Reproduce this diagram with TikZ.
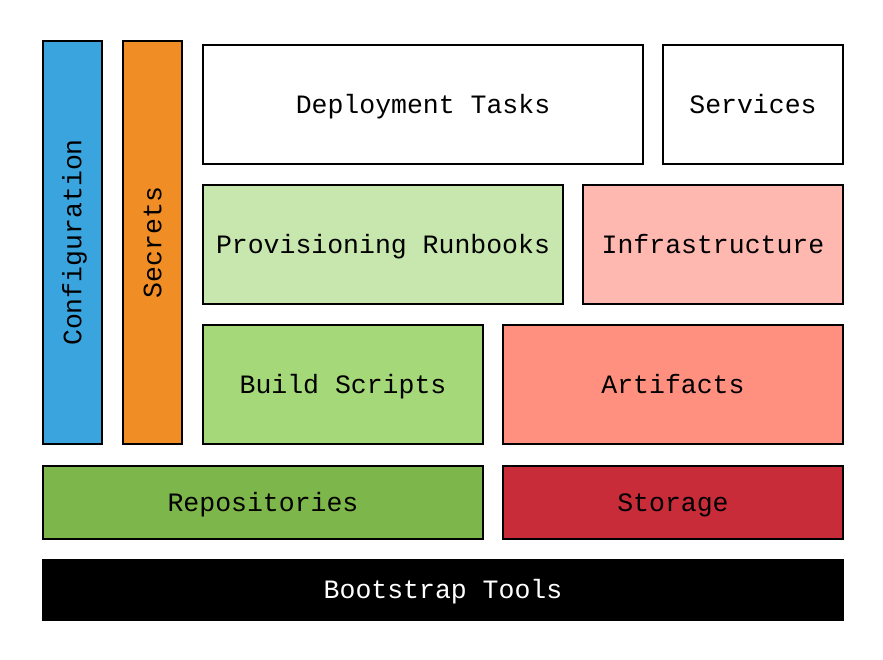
\documentclass[tikz,border=0pt]{standalone}
\usepackage{fontspec}
\setmonofont{Liberation Mono}
\usepackage{xcolor}
\usepackage{tikz}

\definecolor{confblue}{HTML}{3AA4DE}
\definecolor{secrorange}{HTML}{F08D24}
\definecolor{provgreen}{HTML}{C7E7AE}
\definecolor{infrapink}{HTML}{FFB8B0}
\definecolor{buildgreen}{HTML}{A5D879}
\definecolor{artifsalmon}{HTML}{FF9080}
\definecolor{repogreen}{HTML}{7DB64A}
\definecolor{storred}{HTML}{C92C39}

\tikzset{
    labeltext/.style={font=\ttfamily\fontsize{26.5}{30}\selectfont,
        text height=17.5pt,text depth=0pt},
    layer/.style={draw=black,line width=2pt,rectangle,inner sep=0pt,labeltext},
}

\begin{document}
\begin{tikzpicture}[x=1pt,y=-1pt]
    \useasboundingbox (0,0) rectangle (883,660);

    % side columns
    \node[layer,fill=confblue,minimum width=59,minimum height=403] (conf) at (72.5,242.5) {};
    \node[rotate=90,labeltext,inner sep=0pt] (conftxt) at (conf.center) {Configuration};
    \node[layer,fill=secrorange,minimum width=59,minimum height=403] (secr) at (152.5,242.5) {};
    \node[rotate=90,labeltext,inner sep=0pt] (secrtxt) at (secr.center) {Secrets};

    % upper rows
    \node[layer,fill=white,minimum width=440,minimum height=119] (deploy) at (423,104.5) {Deployment Tasks};
    \node[layer,fill=white,minimum width=180,minimum height=119] (serv) at (753,104.5) {Services};
    \node[layer,fill=provgreen,minimum width=360,minimum height=119] (prov) at (383,244.5) {Provisioning Runbooks};
    \node[layer,fill=infrapink,minimum width=260,minimum height=119] (infra) at (713,244.5) {Infrastructure};
    \node[layer,fill=buildgreen,minimum width=280,minimum height=119] (build) at (343,384.5) {Build Scripts};
    \node[layer,fill=artifsalmon,minimum width=340,minimum height=119] (artif) at (673,384.5) {Artifacts};

    % base rows
    \node[layer,fill=repogreen,minimum width=440,minimum height=73] (repo) at (263,502.5) {Repositories};
    \node[layer,fill=storred,minimum width=340,minimum height=73] (stor) at (673,502.5) {Storage};
    \node[layer,fill=black,text=white,minimum width=800,minimum height=60] (boot) at (443,590) {Bootstrap Tools};
\end{tikzpicture}
\end{document}
